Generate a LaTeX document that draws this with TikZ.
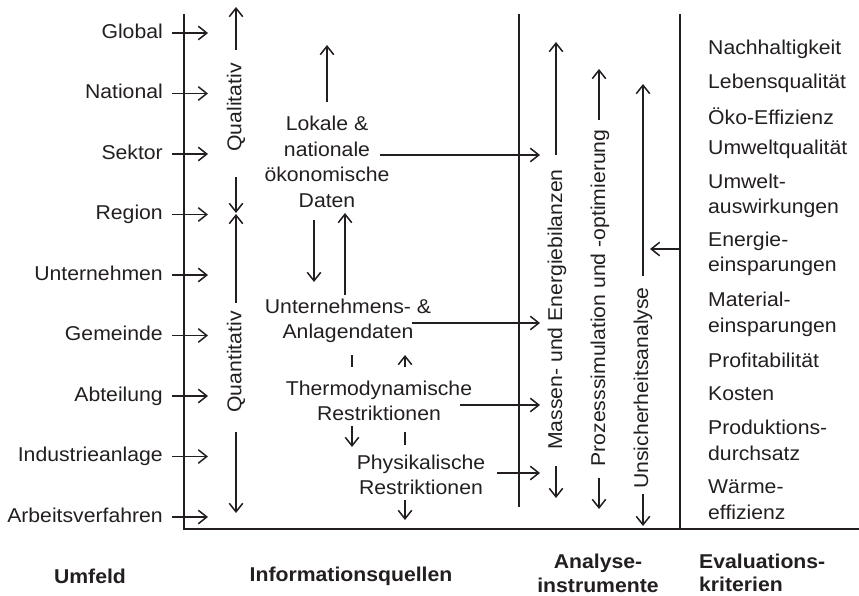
\documentclass[tikz,border=0pt]{standalone}
\usepackage{fontspec}
\setmainfont{Liberation Sans}[FakeStretch=1.06]
\usetikzlibrary{arrows.meta}
\definecolor{ink}{RGB}{35,31,32}
\begin{document}
\begin{tikzpicture}[x=1pt,y=-1pt,
  every node/.style={inner sep=0pt, text=ink},
  txt/.style={font=\fontsize{20}{25.5}\selectfont, align=center},
  lbl/.style={font=\fontsize{20}{25.5}\selectfont, text height=14.6pt, text depth=4.2pt},
  crit/.style={font=\fontsize{20}{25.5}\selectfont, align=left, anchor=west},
  vtxt/.style={font=\fontsize{20}{25}\selectfont, rotate=90},
  hdr/.style={font=\fontsize{20}{23.5}\selectfont\bfseries, align=center},
  arr/.style={draw=ink, line width=1.5pt, -{Straight Barb[length=8.5pt,width=13.5pt,line width=1.5pt]}},
  tick/.style={draw=ink, line width=1.5pt},
  axis/.style={draw=ink, line width=1.8pt}]
\useasboundingbox (0,0) rectangle (859,596);

% axes
\coordinate (ltop) at (184,14);
\coordinate (lbot) at (184,529);
\coordinate (rend) at (859,529);
\coordinate (mtop) at (519,14);
\coordinate (mbot) at (519,507);
\coordinate (rtop) at (680,14);
\coordinate (rbot) at (680,529);
\draw[axis] (ltop) -- (lbot) -- (rend);
\draw[axis] (mtop) -- (mbot);
\draw[axis] (rtop) -- (rbot);

% left labels (Umfeld)
\foreach \n/\t [count=\i from 0] in {g1/Global,g2/National,g3/Sektor,g4/Region,g5/Unternehmen,g6/Gemeinde,g7/Abteilung,g8/Industrieanlage,g9/Arbeitsverfahren}{
  \node[lbl, anchor=east] (\n) at (163,{33+60.5*\i}) {\t};
  \coordinate (\n-s) at (172,{33+60.5*\i});
  \coordinate (\n-e) at (208,{33+60.5*\i});
  \draw[arr] (\n-s) -- (\n-e);
}

% Qualitativ / Quantitativ
\node[vtxt] (qual) at (236,107.5) {Qualitativ};
\coordinate (qual-u0) at (236,50);  \coordinate (qual-u1) at (236,7);
\coordinate (qual-d0) at (236,177); \coordinate (qual-d1) at (236,213);
\draw[arr] (qual-u0) -- (qual-u1);
\draw[arr] (qual-d0) -- (qual-d1);
\node[vtxt] (quan) at (236,362) {Quantitativ};
\coordinate (quan-u0) at (236,303); \coordinate (quan-u1) at (236,214);
\coordinate (quan-d0) at (236,432); \coordinate (quan-d1) at (236,513);
\draw[arr] (quan-u0) -- (quan-u1);
\draw[arr] (quan-d0) -- (quan-d1);

% Informationsquellen
\node[txt] (lok) at (327,162) {Lokale \&\\nationale\\ökonomische\\Daten};
\node[txt] (unt) at (348,321) {Unternehmens- \&\\Anlagendaten};
\node[txt] (thd) at (379,401) {Thermodynamische\\Restriktionen};
\node[txt] (phy) at (421,475) {Physikalische\\Restriktionen};

\coordinate (lok-u0) at (327,102); \coordinate (lok-u1) at (327,45);
\draw[arr] (lok-u0) -- (lok-u1);
\coordinate (lok-a) at (314,220); \coordinate (unt-a) at (314,282);
\draw[arr] (lok-a) -- (unt-a);
\coordinate (unt-b) at (345,295); \coordinate (lok-b) at (345,213);
\draw[arr] (unt-b) -- (lok-b);

\coordinate (unt-t0) at (352,355); \coordinate (unt-t1) at (352,367);
\draw[tick] (unt-t0) -- (unt-t1);
\coordinate (thd-c) at (405,367); \coordinate (unt-c) at (405,355);
\draw[arr] (thd-c) -- (unt-c);

\coordinate (thd-a) at (352,426); \coordinate (phy-a) at (352,447);
\draw[arr] (thd-a) -- (phy-a);
\coordinate (thd-t0) at (405,432); \coordinate (thd-t1) at (405,445);
\draw[tick] (thd-t0) -- (thd-t1);
\coordinate (phy-d0) at (405,500); \coordinate (phy-d1) at (405,520);
\draw[arr] (phy-d0) -- (phy-d1);

% arrows into the analysis column
\coordinate (lok-r) at (380,155); \coordinate (mas-1) at (540,155);
\coordinate (unt-r) at (412,323); \coordinate (mas-2) at (540,323);
\coordinate (thd-r) at (460,405); \coordinate (mas-3) at (540,405);
\coordinate (phy-r) at (497,473); \coordinate (mas-4) at (540,473);
\draw[arr] (lok-r) -- (mas-1);
\draw[arr] (unt-r) -- (mas-2);
\draw[arr] (thd-r) -- (mas-3);
\draw[arr] (phy-r) -- (mas-4);

% Analyseinstrumente
\node[vtxt] (mas) at (557,309.5) {Massen- und Energiebilanzen};
\coordinate (mas-u0) at (556,155); \coordinate (mas-u1) at (556,42);
\coordinate (mas-d0) at (556,466); \coordinate (mas-d1) at (556,498);
\draw[arr] (mas-u0) -- (mas-u1);
\draw[arr] (mas-d0) -- (mas-d1);

\node[vtxt] (pro) at (600,298) {Prozesssimulation und -optimierung};
\coordinate (pro-u0) at (599,120); \coordinate (pro-u1) at (599,69);
\coordinate (pro-d0) at (599,478); \coordinate (pro-d1) at (599,509);
\draw[arr] (pro-u0) -- (pro-u1);
\draw[arr] (pro-d0) -- (pro-d1);

\node[vtxt] (uns) at (643,388) {Unsicherheitsanalyse};
\coordinate (uns-u0) at (643,276); \coordinate (uns-u1) at (643,84);
\coordinate (uns-d0) at (643,494); \coordinate (uns-d1) at (643,526);
\draw[arr] (uns-u0) -- (uns-u1);
\draw[arr] (uns-d0) -- (uns-d1);

\coordinate (eval-l) at (680,249); \coordinate (uns-r) at (650,249);
\draw[arr] (eval-l) -- (uns-r);

% Evaluationskriterien
\node[crit] (c1)  at (708,49)    {Nachhaltigkeit};
\node[crit] (c2)  at (708,83)    {Lebensqualität};
\node[crit] (c3)  at (708,116)   {Öko-Effizienz};
\node[crit] (c4)  at (708,149)   {Umweltqualität};
\node[crit] (c5)  at (708,196)   {Umwelt-\\auswirkungen};
\node[crit] (c6)  at (708,254)   {Energie-\\einsparungen};
\node[crit] (c7)  at (708,314.5) {Material-\\einsparungen};
\node[crit] (c8)  at (708,360)   {Profitabilität};
\node[crit] (c9)  at (708,394)   {Kosten};
\node[crit] (c10) at (708,440.5) {Produktions-\\durchsatz};
\node[crit] (c11) at (708,499.5) {Wärme-\\effizienz};

% headers
\node[hdr] (h1) at (90,576) {Umfeld};
\node[hdr] (h2) at (351,576) {Informationsquellen};
\node[hdr] (h3) at (598,573.5) {Analyse-\\instrumente};
\node[hdr, align=left, anchor=west] (h4) at (699,573) {Evaluations-\\kriterien};
\end{tikzpicture}
\end{document}
